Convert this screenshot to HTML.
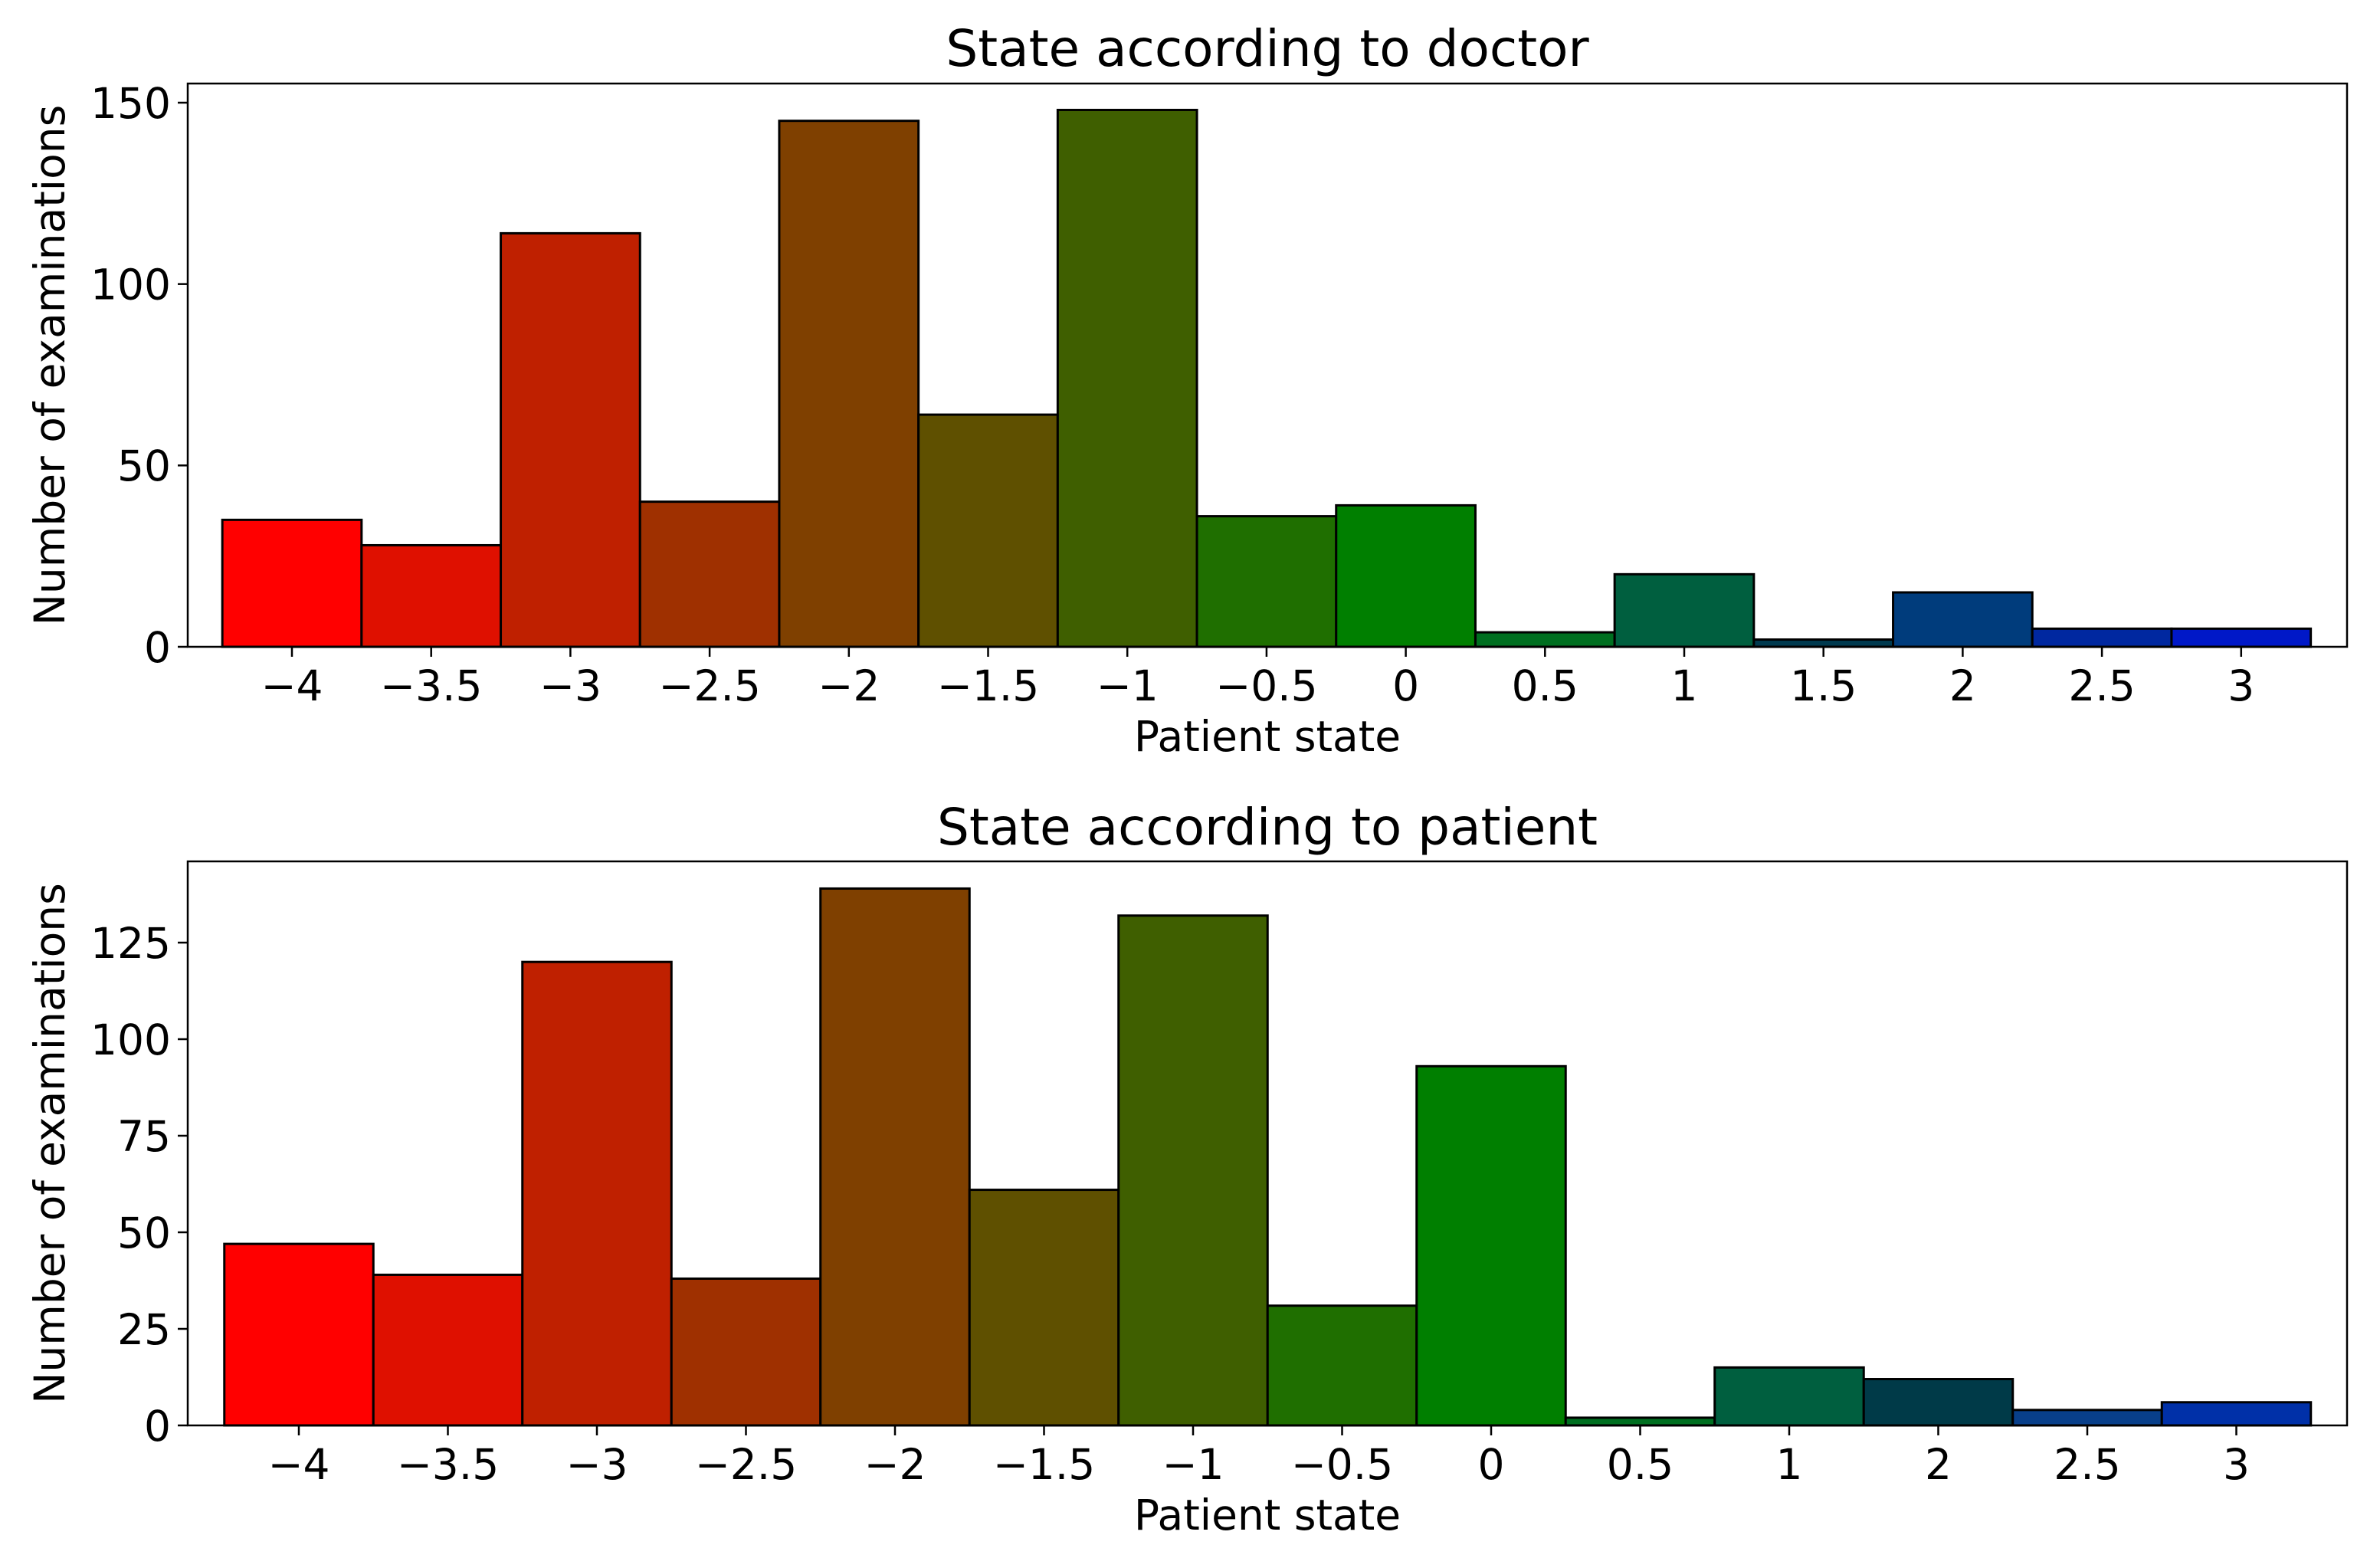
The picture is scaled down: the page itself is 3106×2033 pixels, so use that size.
<!DOCTYPE html>
<html><head><meta charset="utf-8"><style>
html,body{margin:0;padding:0;background:#fff;}
svg{display:block;font-family:"DejaVu Sans","Liberation Sans",sans-serif;}
</style></head><body>
<svg id="fig" width="3106" height="2033" viewBox="0 0 3106 2033" xmlns="http://www.w3.org/2000/svg"></svg>
<script>
// Top chart data (doctor)
const doctorCategories = ["-4","-3.5","-3","-2.5","-2","-1.5","-1","-0.5","0","0.5","1","1.5","2","2.5","3"];
const doctorValues = [35,28,114,40,145,64,148,36,39,4,20,2,15,5,5];
const doctorColors = ["#ff0000","#df1000","#bf2000","#9f3000","#7f4000","#5f5000","#3f5f00","#1f6f00","#007f00","#006f20","#005f3f","#003a4f","#003c7c","#0028a0","#0018c8"];
const doctorYTicks = [0,50,100,150];
// Bottom chart data (patient)
const patientCategories = ["-4","-3.5","-3","-2.5","-2","-1.5","-1","-0.5","0","0.5","1","2","2.5","3"];
const patientValues = [47,39,120,38,139,61,132,31,93,2,15,12,4,6];
const patientColors = ["#ff0000","#df1000","#bf2000","#9f3000","#7f4000","#5f5000","#3f5f00","#1f6f00","#007f00","#006f20","#005f3f","#003a48","#083f8a","#0030a8"];
const patientYTicks = [0,25,50,75,100,125];

const NS="http://www.w3.org/2000/svg";
const svg=document.getElementById('fig');
function mk(tag,attrs,parent){const e=document.createElementNS(NS,tag);for(const k in attrs)e.setAttribute(k,attrs[k]);(parent||svg).appendChild(e);return e;}
const TICKFS=55, TITLEFS=66, LABFS=55;

function drawChart(cfg){
  const g=mk('g',{});
  
  
  const L=245,R=3063,T=cfg.top,B=cfg.bottom;
  const x0=cfg.firstTick, step=cfg.step;
  const xScale=i=>x0+step*i;
  const yScale=v=>B-(v/cfg.yMax)*(B-cfg.yMaxPx);
  cfg.vals.forEach((v,i)=>{
    const r=mk('rect',{x:xScale(i)-step/2,y:yScale(v),width:step,height:B-yScale(v),fill:cfg.colors[i],stroke:'#000','stroke-width':3},g);
    
    
  });
  const f=mk('rect',{x:L,y:T,width:R-L,height:B-T,fill:'none',stroke:'#000','stroke-width':2.5},g);
  
  
  cfg.cats.forEach((c,i)=>{
    const x=xScale(i);
    mk('line',{x1:x,y1:B,x2:x,y2:B+13,stroke:'#000','stroke-width':2.5},g);
    const t=mk('text',{x:x,y:cfg.tickBase,'text-anchor':'middle','font-size':TICKFS,fill:'#000'},g);
    t.textContent=c.replace('-','\u2212');
    
    
  });
  cfg.yTicks.forEach(v=>{
    const y=yScale(v);
    mk('line',{x1:L-13,y1:y,x2:L,y2:y,stroke:'#000','stroke-width':2.5},g);
    const t=mk('text',{x:L-22,y:y+TICKFS*0.36,'text-anchor':'end','font-size':TICKFS,fill:'#000'},g);
    t.textContent=v;
    
    
  });
  const tt=mk('text',{x:(L+R)/2,y:cfg.titleBase,'text-anchor':'middle','font-size':TITLEFS,fill:'#000'},g);
  tt.textContent=cfg.title;
  
  
  const xl=mk('text',{x:(L+R)/2,y:cfg.xlabBase,'text-anchor':'middle','font-size':LABFS,fill:'#000'},g);
  xl.textContent='Patient state';
  
  
  const cy=(T+B)/2;
  const yl=mk('text',{x:0,y:0,'text-anchor':'middle','font-size':LABFS,fill:'#000',transform:`translate(84,${cy}) rotate(-90)`},g);
  yl.textContent='Number of examinations';
  
  
}

drawChart({name:'doctor-chart',cats:doctorCategories,vals:doctorValues,colors:doctorColors,yTicks:doctorYTicks,
  top:109,bottom:844,yMax:150,yMaxPx:134,firstTick:381,step:181.7,tickBase:914,titleBase:86,xlabBase:980,title:'State according to doctor'});
drawChart({name:'patient-chart',cats:patientCategories,vals:patientValues,colors:patientColors,yTicks:patientYTicks,
  top:1124,bottom:1860,yMax:125,yMaxPx:1230,firstTick:390,step:194.5,tickBase:1930,titleBase:1102,xlabBase:1996,title:'State according to patient'});
</script>
</body></html>
